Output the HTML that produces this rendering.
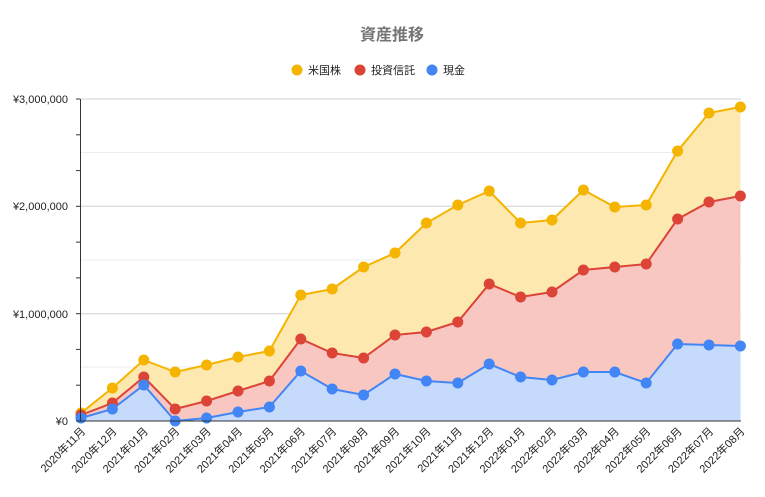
<!DOCTYPE html>
<html><head><meta charset="utf-8"><style>
body{margin:0;background:#fff}
svg text{font-family:"Liberation Sans","Noto Sans CJK JP",sans-serif}
</style></head><body>
<svg width="765" height="492" viewBox="0 0 765 492" xmlns="http://www.w3.org/2000/svg">
<rect width="765" height="492" fill="#fff"/>
<text x="392" y="40" text-anchor="middle" font-size="16" font-weight="bold" fill="#757575">資産推移</text>
<circle cx="297" cy="70" r="5.5" fill="#f4b400"/><text x="308" y="74" font-size="11" fill="#222">米国株</text>
<circle cx="360" cy="70" r="5.5" fill="#db4437"/><text x="371" y="74" font-size="11" fill="#222">投資信託</text>
<circle cx="432" cy="70" r="5.5" fill="#4285f4"/><text x="443" y="74" font-size="11" fill="#222">現金</text>
<g stroke="#ececec" stroke-width="1">
<line x1="80" x2="741" y1="152.5" y2="152.5"/><line x1="80" x2="741" y1="260" y2="260"/><line x1="80" x2="741" y1="367" y2="367"/>
</g>
<g stroke="#d0d0d0" stroke-width="1">
<line x1="80" x2="741" y1="99" y2="99"/><line x1="80" x2="741" y1="206.3" y2="206.3"/><line x1="80" x2="741" y1="313.7" y2="313.7"/>
</g>
<g font-size="11" fill="#222" text-anchor="end">
<text x="68" y="103">¥3,000,000</text><text x="68" y="210">¥2,000,000</text><text x="68" y="318">¥1,000,000</text><text x="68" y="425">¥0</text>
</g>
<polygon fill="#fde8b0" points="81,421 81,413 112.4,388 143.8,360 175.2,372 206.6,365 238,357 269.4,351 300.8,295 332.2,289 363.6,267 395,253 426.4,223 457.8,205 489.2,191 520.6,223 552,220 583.4,190 614.8,207 646.2,205 677.6,151 709,113 740.4,107 740.4,421"/>
<polygon fill="#f8c7c2" points="81,421 81,415 112.4,403 143.8,377 175.2,409 206.6,401 238,391 269.4,381 300.8,339 332.2,353 363.6,358 395,335 426.4,332 457.8,322 489.2,284 520.6,297 552,292 583.4,270 614.8,267 646.2,264 677.6,219 709,202 740.4,196 740.4,421"/>
<polygon fill="#c6dafc" points="81,421 81,418 112.4,409 143.8,385 175.2,421 206.6,418 238,412 269.4,407 300.8,371 332.2,389 363.6,395 395,374 426.4,381 457.8,383 489.2,364 520.6,377 552,380 583.4,372 614.8,372 646.2,383 677.6,344 709,345 740.4,346 740.4,421"/>
<g fill="none" stroke-width="2">
<polyline stroke="#f4b400" points="81,413 112.4,388 143.8,360 175.2,372 206.6,365 238,357 269.4,351 300.8,295 332.2,289 363.6,267 395,253 426.4,223 457.8,205 489.2,191 520.6,223 552,220 583.4,190 614.8,207 646.2,205 677.6,151 709,113 740.4,107"/>
<polyline stroke="#db4437" points="81,415 112.4,403 143.8,377 175.2,409 206.6,401 238,391 269.4,381 300.8,339 332.2,353 363.6,358 395,335 426.4,332 457.8,322 489.2,284 520.6,297 552,292 583.4,270 614.8,267 646.2,264 677.6,219 709,202 740.4,196"/>
<polyline stroke="#4285f4" points="81,418 112.4,409 143.8,385 175.2,421 206.6,418 238,412 269.4,407 300.8,371 332.2,389 363.6,395 395,374 426.4,381 457.8,383 489.2,364 520.6,377 552,380 583.4,372 614.8,372 646.2,383 677.6,344 709,345 740.4,346"/>
</g>
<g fill="#f4b400">
<circle cx="81" cy="413" r="5.5"/><circle cx="112.4" cy="388" r="5.5"/><circle cx="143.8" cy="360" r="5.5"/><circle cx="175.2" cy="372" r="5.5"/><circle cx="206.6" cy="365" r="5.5"/><circle cx="238" cy="357" r="5.5"/><circle cx="269.4" cy="351" r="5.5"/><circle cx="300.8" cy="295" r="5.5"/><circle cx="332.2" cy="289" r="5.5"/><circle cx="363.6" cy="267" r="5.5"/><circle cx="395" cy="253" r="5.5"/><circle cx="426.4" cy="223" r="5.5"/><circle cx="457.8" cy="205" r="5.5"/><circle cx="489.2" cy="191" r="5.5"/><circle cx="520.6" cy="223" r="5.5"/><circle cx="552" cy="220" r="5.5"/><circle cx="583.4" cy="190" r="5.5"/><circle cx="614.8" cy="207" r="5.5"/><circle cx="646.2" cy="205" r="5.5"/><circle cx="677.6" cy="151" r="5.5"/><circle cx="709" cy="113" r="5.5"/><circle cx="740.4" cy="107" r="5.5"/>
</g>
<g fill="#db4437">
<circle cx="81" cy="415" r="5.5"/><circle cx="112.4" cy="403" r="5.5"/><circle cx="143.8" cy="377" r="5.5"/><circle cx="175.2" cy="409" r="5.5"/><circle cx="206.6" cy="401" r="5.5"/><circle cx="238" cy="391" r="5.5"/><circle cx="269.4" cy="381" r="5.5"/><circle cx="300.8" cy="339" r="5.5"/><circle cx="332.2" cy="353" r="5.5"/><circle cx="363.6" cy="358" r="5.5"/><circle cx="395" cy="335" r="5.5"/><circle cx="426.4" cy="332" r="5.5"/><circle cx="457.8" cy="322" r="5.5"/><circle cx="489.2" cy="284" r="5.5"/><circle cx="520.6" cy="297" r="5.5"/><circle cx="552" cy="292" r="5.5"/><circle cx="583.4" cy="270" r="5.5"/><circle cx="614.8" cy="267" r="5.5"/><circle cx="646.2" cy="264" r="5.5"/><circle cx="677.6" cy="219" r="5.5"/><circle cx="709" cy="202" r="5.5"/><circle cx="740.4" cy="196" r="5.5"/>
</g>
<g fill="#4285f4">
<circle cx="81" cy="418" r="5.5"/><circle cx="112.4" cy="409" r="5.5"/><circle cx="143.8" cy="385" r="5.5"/><circle cx="175.2" cy="421" r="5.5"/><circle cx="206.6" cy="418" r="5.5"/><circle cx="238" cy="412" r="5.5"/><circle cx="269.4" cy="407" r="5.5"/><circle cx="300.8" cy="371" r="5.5"/><circle cx="332.2" cy="389" r="5.5"/><circle cx="363.6" cy="395" r="5.5"/><circle cx="395" cy="374" r="5.5"/><circle cx="426.4" cy="381" r="5.5"/><circle cx="457.8" cy="383" r="5.5"/><circle cx="489.2" cy="364" r="5.5"/><circle cx="520.6" cy="377" r="5.5"/><circle cx="552" cy="380" r="5.5"/><circle cx="583.4" cy="372" r="5.5"/><circle cx="614.8" cy="372" r="5.5"/><circle cx="646.2" cy="383" r="5.5"/><circle cx="677.6" cy="344" r="5.5"/><circle cx="709" cy="345" r="5.5"/><circle cx="740.4" cy="346" r="5.5"/>
</g>
<g stroke="#333" stroke-width="1">
<line x1="80.5" x2="80.5" y1="99" y2="421"/>
<line x1="76" x2="741" y1="421" y2="421"/>
<line x1="76" x2="80" y1="99" y2="99"/><line x1="76" x2="80" y1="134.8" y2="134.8"/><line x1="76" x2="80" y1="170.6" y2="170.6"/><line x1="76" x2="80" y1="206.3" y2="206.3"/><line x1="76" x2="80" y1="242.1" y2="242.1"/><line x1="76" x2="80" y1="277.9" y2="277.9"/><line x1="76" x2="80" y1="313.7" y2="313.7"/><line x1="76" x2="80" y1="349.4" y2="349.4"/><line x1="76" x2="80" y1="385.2" y2="385.2"/>
</g>
<g font-size="11" fill="#222" text-anchor="end">
<text transform="translate(86,432) rotate(-45)">2020年11月</text>
<text transform="translate(117.4,432) rotate(-45)">2020年12月</text>
<text transform="translate(148.8,432) rotate(-45)">2021年01月</text>
<text transform="translate(180.2,432) rotate(-45)">2021年02月</text>
<text transform="translate(211.6,432) rotate(-45)">2021年03月</text>
<text transform="translate(243,432) rotate(-45)">2021年04月</text>
<text transform="translate(274.4,432) rotate(-45)">2021年05月</text>
<text transform="translate(305.8,432) rotate(-45)">2021年06月</text>
<text transform="translate(337.2,432) rotate(-45)">2021年07月</text>
<text transform="translate(368.6,432) rotate(-45)">2021年08月</text>
<text transform="translate(400,432) rotate(-45)">2021年09月</text>
<text transform="translate(431.4,432) rotate(-45)">2021年10月</text>
<text transform="translate(462.8,432) rotate(-45)">2021年11月</text>
<text transform="translate(494.2,432) rotate(-45)">2021年12月</text>
<text transform="translate(525.6,432) rotate(-45)">2022年01月</text>
<text transform="translate(557,432) rotate(-45)">2022年02月</text>
<text transform="translate(588.4,432) rotate(-45)">2022年03月</text>
<text transform="translate(619.8,432) rotate(-45)">2022年04月</text>
<text transform="translate(651.2,432) rotate(-45)">2022年05月</text>
<text transform="translate(682.6,432) rotate(-45)">2022年06月</text>
<text transform="translate(714,432) rotate(-45)">2022年07月</text>
<text transform="translate(745.4,432) rotate(-45)">2022年08月</text>
</g>
</svg>
</body></html>
